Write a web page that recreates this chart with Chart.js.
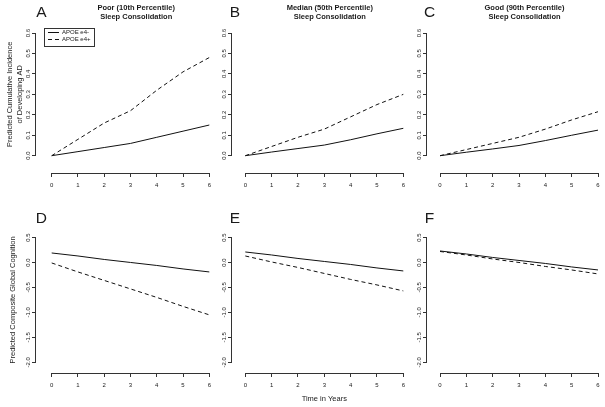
<!DOCTYPE html>
<html>
<head>
<meta charset="utf-8">
<title>Sleep consolidation, APOE e4 and predicted outcomes</title>
<script src="https://cdn.jsdelivr.net/npm/chart.js@4.4.1/dist/chart.umd.min.js"></script>
<style>
  html, body { margin: 0; padding: 0; background: #fff; }
  #figure { position: relative; width: 605px; height: 407px; overflow: hidden; }
  #figure canvas { position: absolute; }
</style>
</head>
<body>
<div id="figure"></div>
<script>
// values
var years = [0, 1, 2, 3, 4, 5, 6];
var incidenceTicks = [0, 0.1, 0.2, 0.3, 0.4, 0.5, 0.6];
var cognitionTicks = [-2, -1.5, -1, -0.5, 0, 0.5];
var seriesNames = ['APOE e4-', 'APOE e4+'];

// top row: predicted cumulative incidence of AD
var poorIncidenceNeg = [0, 0.02, 0.04, 0.06, 0.09, 0.12, 0.15];
var poorIncidencePos = [0, 0.08, 0.16, 0.22, 0.32, 0.41, 0.48];
var medianIncidenceNeg = [0, 0.018, 0.035, 0.052, 0.078, 0.107, 0.134];
var medianIncidencePos = [0, 0.045, 0.09, 0.13, 0.19, 0.25, 0.30];
var goodIncidenceNeg = [0, 0.017, 0.033, 0.05, 0.074, 0.10, 0.125];
var goodIncidencePos = [0, 0.03, 0.06, 0.09, 0.13, 0.175, 0.215];

// bottom row: predicted composite global cognition
var poorCognitionNeg = [0.19, 0.13, 0.06, 0.0, -0.06, -0.13, -0.19];
var poorCognitionPos = [-0.01, -0.19, -0.36, -0.53, -0.70, -0.88, -1.05];
var medianCognitionNeg = [0.21, 0.15, 0.08, 0.02, -0.04, -0.11, -0.17];
var medianCognitionPos = [0.13, 0.01, -0.10, -0.22, -0.34, -0.45, -0.57];
var goodCognitionNeg = [0.23, 0.17, 0.10, 0.04, -0.02, -0.09, -0.15];
var goodCognitionPos = [0.22, 0.15, 0.07, 0.00, -0.08, -0.15, -0.23];

var columnTitles = [
  ['Poor (10th Percentile)', 'Sleep Consolidation'],
  ['Median (50th Percentile)', 'Sleep Consolidation'],
  ['Good (90th Percentile)', 'Sleep Consolidation']
];
var rowTitles = [
  ['Predicted Cumulative Incidence', 'of Developing AD'],
  'Predicted Composite Global Cognition'
];
var timeTitle = 'Time in Years';

var FONT = "'Liberation Sans', Arial, Helvetica, sans-serif";
var TEXT_COLOR = '#1a1a1a';
var AXIS_COLOR = '#333';
var LINE_COLOR = '#111';
var TICK = 3;

Chart.defaults.font.family = FONT;
Chart.defaults.color = TEXT_COLOR;

// page pixels: where the y axis sits and where year 0 / year 6 land
var COLS = [
  { left: 0, width: 216, axis: 36, x0: 51.7, x1: 209.3 },
  { left: 216, width: 194, axis: 231.7, x0: 245.3, x1: 403.3 },
  { left: 410, width: 195, axis: 426.7, x0: 440, x1: 598 }
];
// page pixels: where the x axis sits and where the lowest / highest tick land
var ROWS = [
  { top: 0, height: 200, axis: 173, low: 155.7, high: 33, ticks: incidenceTicks,
    axisHeight: 20, labelPad: 0, titlePad: 4.25, letterY: 12.8 },
  { top: 200, height: 207, axis: 372.7, low: 362.3, high: 237.5, ticks: cognitionTicks,
    axisHeight: 32, labelPad: -1, titlePad: 7.45, letterY: 19 }
];

var panels = [
  { letter: 'A', col: 0, row: 0, neg: poorIncidenceNeg, pos: poorIncidencePos, legend: true },
  { letter: 'B', col: 1, row: 0, neg: medianIncidenceNeg, pos: medianIncidencePos },
  { letter: 'C', col: 2, row: 0, neg: goodIncidenceNeg, pos: goodIncidencePos },
  { letter: 'D', col: 0, row: 1, neg: poorCognitionNeg, pos: poorCognitionPos },
  { letter: 'E', col: 1, row: 1, neg: medianCognitionNeg, pos: medianCognitionPos, timeTitle: true },
  { letter: 'F', col: 2, row: 1, neg: goodCognitionNeg, pos: goodCognitionPos }
];

function toPoints(values) {
  return years.map(function (t, i) { return { x: t, y: values[i] }; });
}

function lineSet(label, values, dash) {
  return {
    label: label,
    data: toPoints(values),
    borderColor: LINE_COLOR,
    backgroundColor: LINE_COLOR,
    borderWidth: 1,
    borderDash: dash,
    pointRadius: 0,
    tension: 0
  };
}

function tickMarks() {
  return { display: true, drawOnChartArea: false, drawTicks: true, tickLength: TICK,
    color: AXIS_COLOR, lineWidth: 1, tickColor: AXIS_COLOR, tickWidth: 1 };
}

// empty scale that only keeps the real axis away from the plot region
function gapScale(axis, position, fit) {
  return {
    type: 'linear', axis: axis, position: position, weight: 0,
    grid: { display: false }, border: { display: false }, ticks: { display: false },
    afterFit: fit
  };
}

// R style axes: a line from the first tick to the last one, ticks pointing out
function axisPlugin(yTicks) {
  return {
    id: 'axisLines',
    afterDraw: function (chart) {
      var ctx = chart.ctx, xs = chart.scales.x, ys = chart.scales.y;
      var px = function (scale, v) { return Math.round(scale.getPixelForValue(v) - 0.5); };
      var base = Math.round(chart.scales.xGap.bottom);
      var side = Math.round(chart.scales.yGap.left) - 1;
      ctx.save();
      ctx.fillStyle = AXIS_COLOR;
      var xa = px(xs, years[0]), xb = px(xs, years[years.length - 1]);
      ctx.fillRect(xa, base, xb - xa + 1, 1);
      years.forEach(function (v) { ctx.fillRect(px(xs, v), base, 1, TICK + 1); });
      var ya = px(ys, yTicks[yTicks.length - 1]), yb = px(ys, yTicks[0]);
      ctx.fillRect(side, ya, 1, yb - ya + 1);
      yTicks.forEach(function (v) { ctx.fillRect(side - TICK, px(ys, v), TICK + 1, 1); });
      ctx.restore();
    }
  };
}

// Chart.js puts a chartArea legend at the canvas top, so move it into the plot corner
var legendBox = {
  id: 'legendBox',
  afterLayout: function (chart) {
    var legend = chart.legend;
    if (!legend || !legend.options.display) return;
    legend.left = chart.chartArea.left + 1.6;
    legend.top = Math.floor(chart.chartArea.top) + 0.5;
    legend.right = legend.left + legend.width;
    legend.bottom = legend.top + legend.height;
  },
  afterDraw: function (chart) {
    var legend = chart.legend;
    if (!legend || !legend.options.display) return;
    var pad = legend.options.labels.padding;
    var widest = 0, rowsHeight = 0;
    legend.legendHitBoxes.forEach(function (b) {
      widest = Math.max(widest, b.width);
      rowsHeight += b.height + pad;
    });
    var left = Math.round(chart.chartArea.left) - 0.5, top = legend.top;
    var right = Math.round(legend.left + pad + widest + 3) + 0.5;
    var bottom = Math.round(legend.top + pad + rowsHeight + 2) + 0.5;
    var ctx = chart.ctx;
    ctx.save();
    ctx.strokeStyle = AXIS_COLOR;
    ctx.lineWidth = 1;
    ctx.setLineDash([]);
    ctx.strokeRect(left, top, right - left, bottom - top);
    ctx.restore();
  }
};

function headerPlugin(panel, col, row) {
  return {
    id: 'panelHeader',
    afterDraw: function (chart) {
      var ctx = chart.ctx;
      ctx.save();
      ctx.fillStyle = TEXT_COLOR;
      ctx.textAlign = 'center';
      ctx.textBaseline = 'middle';
      ctx.font = '15.5px ' + FONT;
      ctx.fillText(panel.letter, col.x0 - 10.4 - col.left, row.letterY);
      if (panel.row === 0) {
        ctx.font = 'bold 7.5px ' + FONT;
        columnTitles[panel.col].forEach(function (line, i) {
          ctx.fillText(line, col.x0 + 84.5 - col.left, 7.5 + i * 9.2);
        });
      }
      ctx.restore();
    }
  };
}

function legendLabels(chart) {
  return chart.data.datasets.map(function (ds, i) {
    return {
      text: ds.label,
      datasetIndex: i,
      strokeStyle: ds.borderColor,
      fillStyle: ds.borderColor,
      lineWidth: ds.borderWidth,
      lineDash: ds.borderDash,
      pointStyle: 'line',
      fontColor: TEXT_COLOR,
      hidden: false
    };
  });
}

function makePanel(panel) {
  var col = COLS[panel.col], row = ROWS[panel.row];
  var ticks = row.ticks;
  var xMin = years[0], xMax = years[years.length - 1];
  var yMin = ticks[0], yMax = ticks[ticks.length - 1];
  // R pads each range by 4%
  var xPad = 0.04 * (xMax - xMin), yPad = 0.04 * (yMax - yMin);
  var pxX = (col.x1 - col.x0) / (xMax - xMin);
  var pxY = (row.low - row.high) / (yMax - yMin);
  var plotLeft = col.x0 - xPad * pxX, plotRight = col.x1 + xPad * pxX;
  var plotTop = row.high - yPad * pxY, plotBottom = row.low + yPad * pxY;

  var canvas = document.createElement('canvas');
  canvas.width = col.width;
  canvas.height = row.height;
  canvas.style.left = col.left + 'px';
  canvas.style.top = row.top + 'px';
  document.getElementById('figure').appendChild(canvas);

  return new Chart(canvas.getContext('2d'), {
    type: 'line',
    data: {
      datasets: [
        lineSet(seriesNames[0], panel.neg, []),
        lineSet(seriesNames[1], panel.pos, [4, 3])
      ]
    },
    options: {
      responsive: false,
      animation: false,
      events: [],
      layout: {
        padding: {
          left: 0,
          top: plotTop - row.top,
          right: col.left + col.width - plotRight,
          bottom: row.top + row.height - row.axis - row.axisHeight
        }
      },
      scales: {
        x: {
          type: 'linear', position: 'bottom', weight: 1, bounds: 'data',
          min: xMin - xPad, max: xMax + xPad,
          afterBuildTicks: function (s) { s.ticks = years.map(function (v) { return { value: v }; }); },
          afterFit: function (s) { s.height = row.axisHeight; s.paddingLeft = 0; s.paddingRight = 0; },
          grid: tickMarks(),
          border: { display: false },
          ticks: { font: { size: 6 }, padding: 5.7, maxRotation: 0, autoSkip: false,
            callback: function (v) { return String(v); } },
          title: { display: !!panel.timeTitle, text: timeTitle, font: { size: 7.5 },
            padding: { top: 0, bottom: 1.2 } }
        },
        xGap: gapScale('x', 'bottom', function (s) { s.height = row.axis - plotBottom; }),
        y: {
          type: 'linear', position: 'left', weight: 1, bounds: 'data',
          min: yMin - yPad, max: yMax + yPad,
          afterBuildTicks: function (s) { s.ticks = ticks.map(function (v) { return { value: v }; }); },
          afterFit: function (s) { s.width = col.axis - col.left; s.paddingTop = 0; s.paddingBottom = 0; },
          grid: tickMarks(),
          border: { display: false },
          ticks: { font: { size: 6 }, padding: row.labelPad, minRotation: 90, maxRotation: 90,
            crossAlign: 'center', autoSkip: false,
            callback: function (v) { return v.toFixed(1); } },
          title: { display: panel.col === 0, text: rowTitles[panel.row],
            font: { size: 7.5, lineHeight: 1.4 }, padding: { top: row.titlePad, bottom: 0 } }
        },
        yGap: gapScale('y', 'left', function (s) { s.width = plotLeft - col.axis; })
      },
      plugins: {
        legend: {
          display: !!panel.legend,
          position: 'chartArea',
          align: 'start',
          labels: { font: { size: 6 }, color: TEXT_COLOR, usePointStyle: true, pointStyle: 'line',
            pointStyleWidth: 11, boxHeight: 6, padding: 1, generateLabels: legendLabels }
        },
        tooltip: { enabled: false }
      }
    },
    plugins: [axisPlugin(ticks), legendBox, headerPlugin(panel, col, row)]
  });
}

panels.forEach(makePanel);
</script>
</body>
</html>
